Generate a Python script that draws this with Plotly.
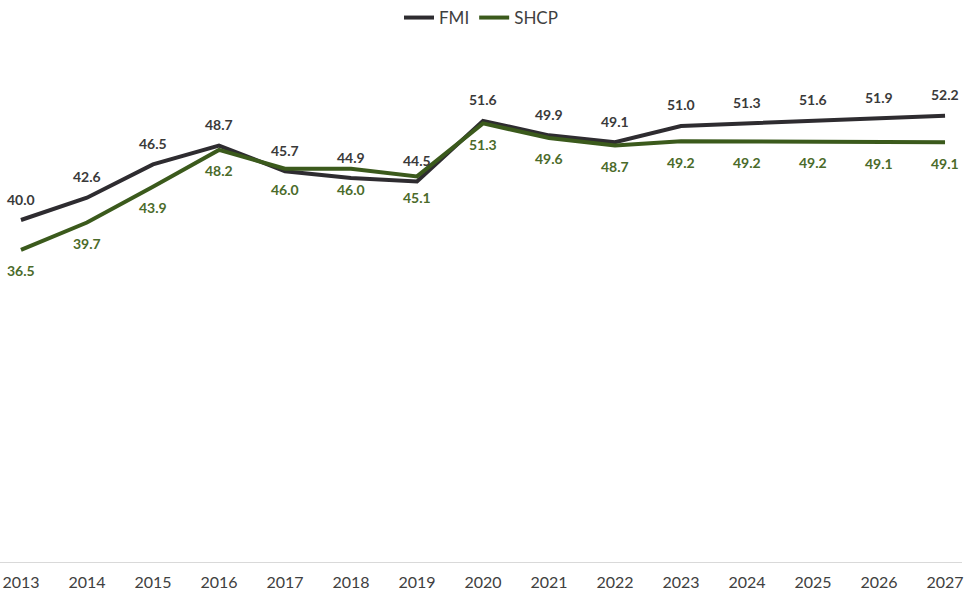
import plotly.graph_objects as go

years = [2013, 2014, 2015, 2016, 2017, 2018, 2019, 2020, 2021, 2022, 2023, 2024, 2025, 2026, 2027]
fmi = [40.0, 42.6, 46.5, 48.7, 45.7, 44.9, 44.5, 51.6, 49.9, 49.1, 51.0, 51.3, 51.6, 51.9, 52.2]
shcp = [36.5, 39.7, 43.9, 48.2, 46.0, 46.0, 45.1, 51.3, 49.6, 48.7, 49.2, 49.2, 49.2, 49.1, 49.1]

FMI_COLOR = "#2e2c30"
SHCP_COLOR = "#3b5a1c"
FMI_TEXT = "#3a3a3a"
SHCP_TEXT = "#4b6b2a"
FONT = "Lato, 'Open Sans', sans-serif"

fig = go.Figure()
fig.add_trace(go.Scatter(
    x=years, y=fmi, name="FMI", mode="lines",
    line=dict(color=FMI_COLOR, width=4),
))
fig.add_trace(go.Scatter(
    x=years, y=shcp, name="SHCP", mode="lines",
    line=dict(color=SHCP_COLOR, width=4),
))

for x, v in zip(years, fmi):
    fig.add_annotation(x=x, y=v, text=f"{v:.1f}", showarrow=False, yshift=21,
                       font=dict(family=FONT, size=14, color=FMI_TEXT, weight="bold"))
for x, v in zip(years, shcp):
    fig.add_annotation(x=x, y=v, text=f"{v:.1f}", showarrow=False, yshift=-21,
                       font=dict(family=FONT, size=14, color=SHCP_TEXT, weight="bold"))

fig.update_layout(
    width=964, height=596,
    margin=dict(l=0, r=0, t=49, b=34),
    paper_bgcolor="white", plot_bgcolor="white",
    font=dict(family=FONT, color="#404040"),
    showlegend=True,
    legend=dict(orientation="h", x=0.5, xanchor="center", y=1.0, yanchor="top",
                yref="container", font=dict(size=17, color="#404040"),
                itemwidth=30, tracegroupgap=0),
    xaxis=dict(
        range=[2012.6825, 2027.257], tickmode="array", tickvals=years,
        ticktext=[str(y) for y in years], showgrid=False, zeroline=False,
        showline=True, linecolor="#d9d9d9", linewidth=1,
        ticks="outside", ticklen=6, tickcolor="rgba(0,0,0,0)",
        tickfont=dict(size=16, color="#404040"),
        ticklabeloverflow="allow",
    ),
    yaxis=dict(range=[0, 60], visible=False, showgrid=False, zeroline=False),
)

fig.write_html("out.html", config={"displayModeBar": False},
               post_script="document.body.style.margin='0';document.body.style.overflow='hidden';")
